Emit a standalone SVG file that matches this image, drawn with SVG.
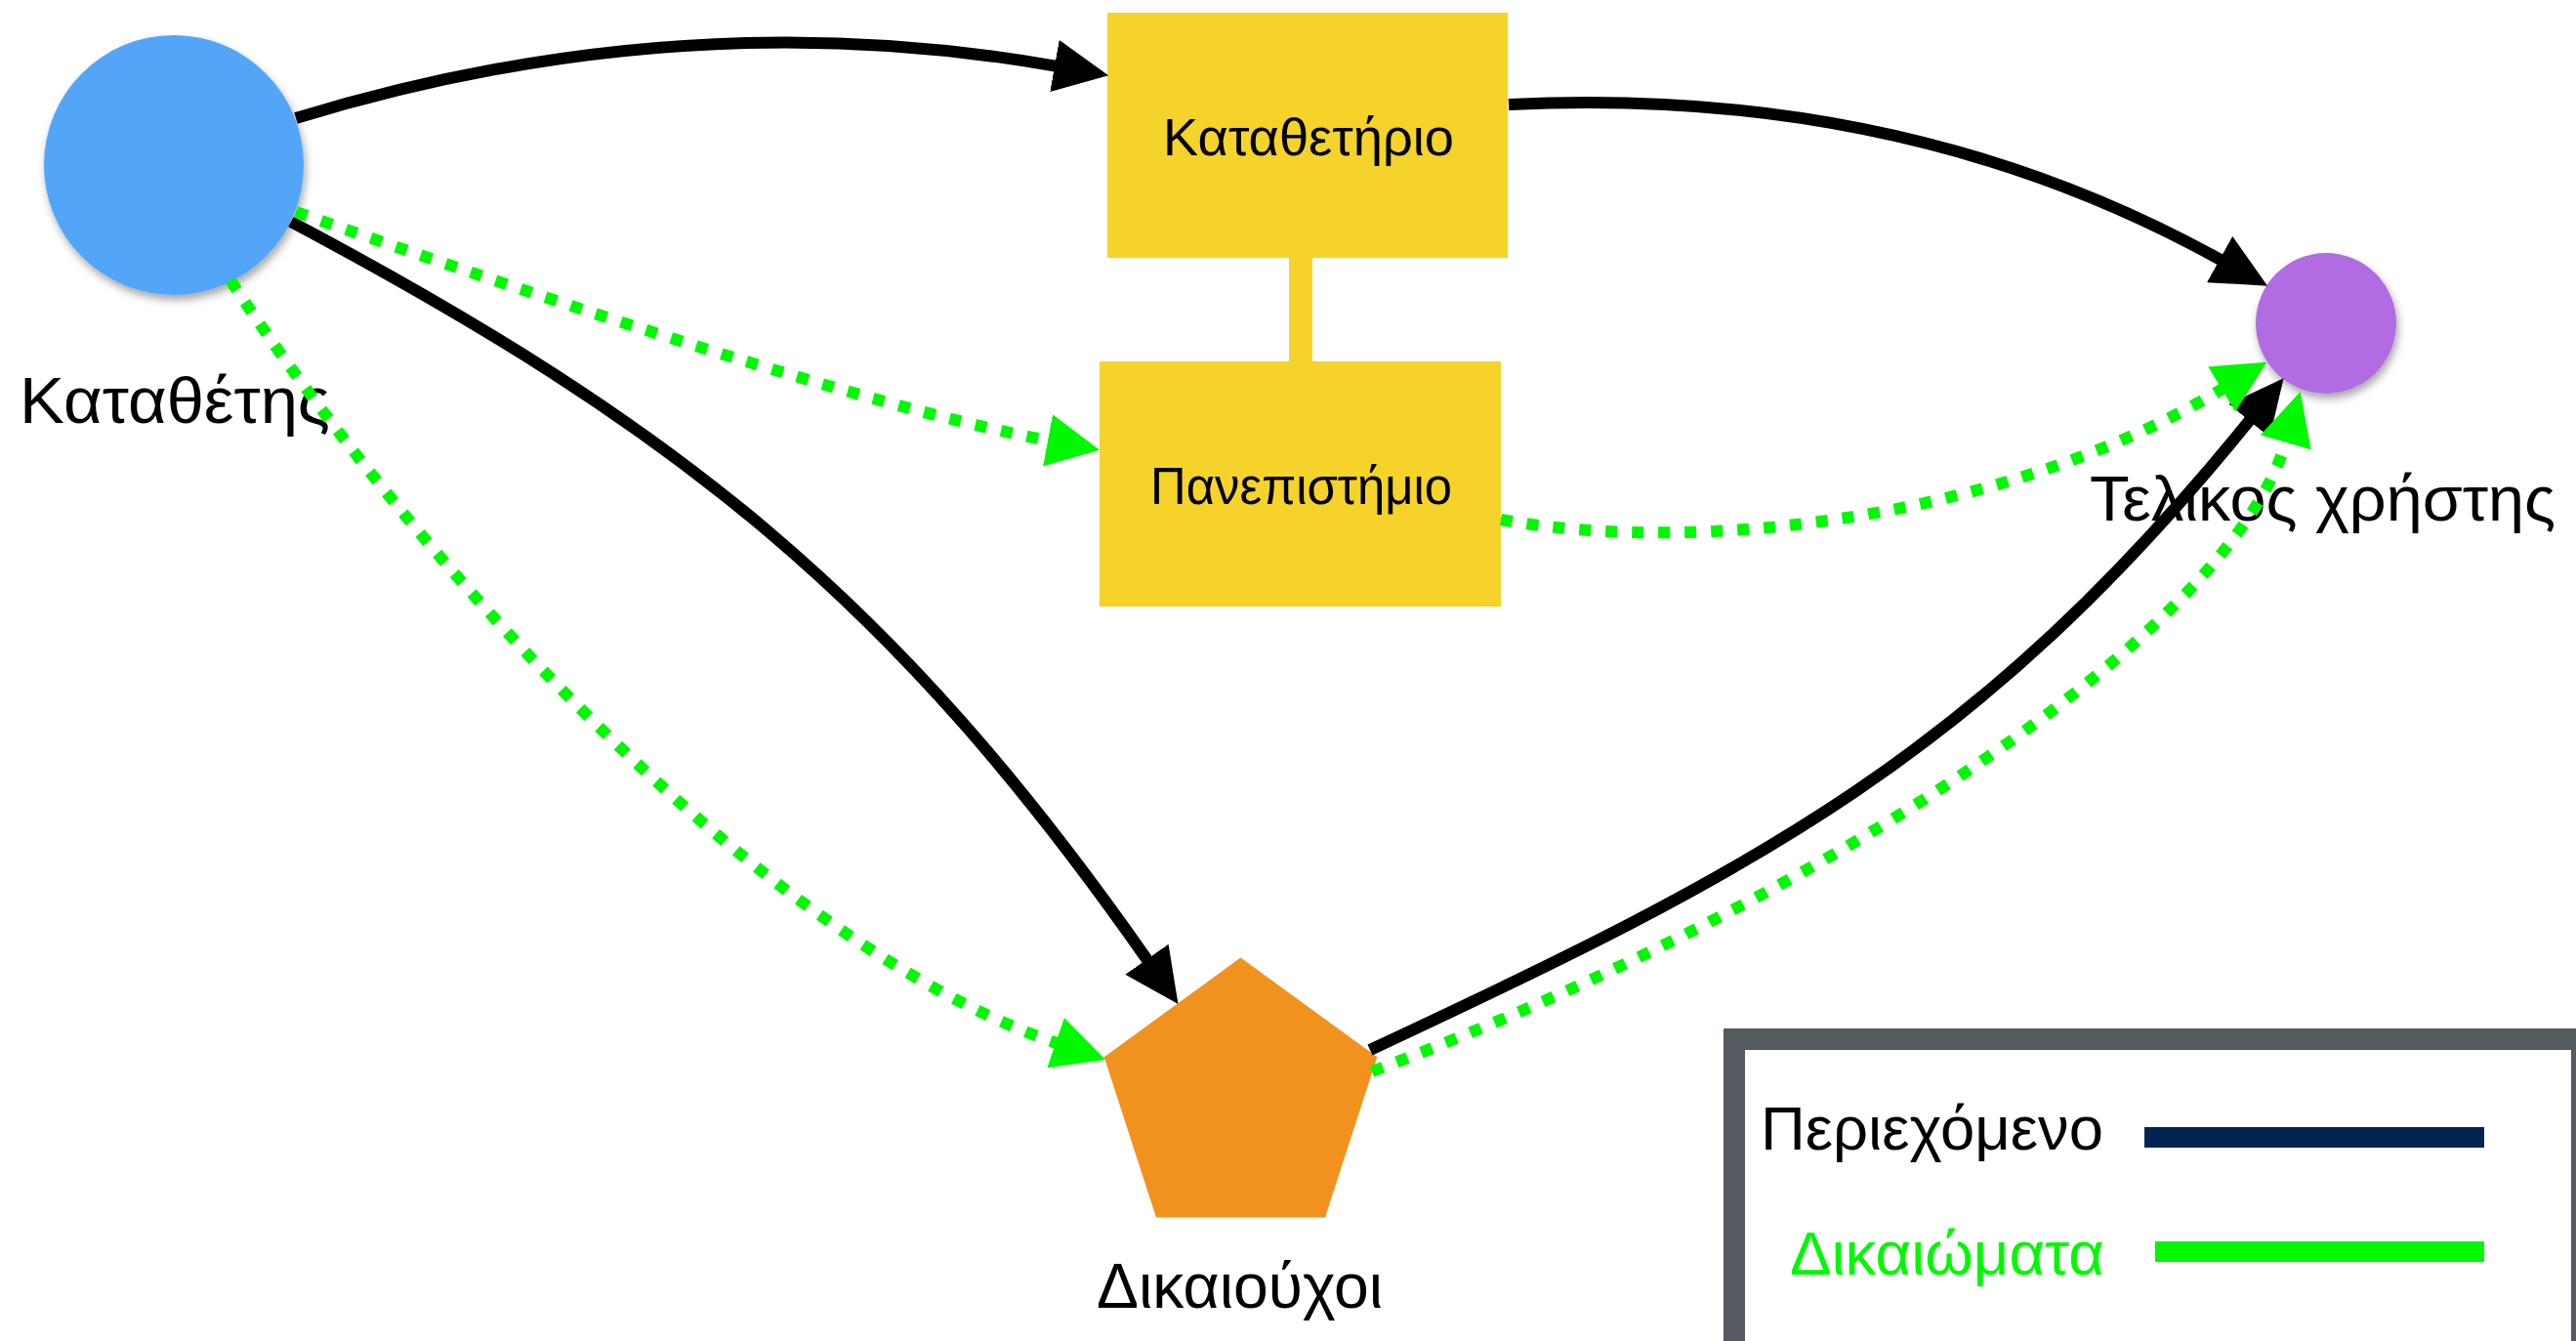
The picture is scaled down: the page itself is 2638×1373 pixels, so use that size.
<svg xmlns="http://www.w3.org/2000/svg" width="2638" height="1373" viewBox="0 0 2638 1373">
  <style>
    .lbl { font-family: "Liberation Sans", Arial, sans-serif; fill: #000; }
    .box { fill: #f5d32b; }
    .solid { fill: none; stroke: #000; stroke-width: 12; }
    .dotted { fill: none; stroke: #00f900; stroke-width: 12; stroke-dasharray: 12 15; }
  </style>
  <defs>
    <filter id="shadow" x="-20%" y="-20%" width="140%" height="150%">
      <feDropShadow dx="2" dy="5" stdDeviation="4" flood-color="#000" flood-opacity="0.35"/>
    </filter>
    <marker id="arrowBlack" markerUnits="userSpaceOnUse" markerWidth="58" markerHeight="54" viewBox="0 0 58 54" refX="1" refY="27" orient="auto">
      <path d="M0,0 L56,27 L0,54 Z" fill="#000"/>
    </marker>
    <marker id="arrowGreen" markerUnits="userSpaceOnUse" markerWidth="58" markerHeight="54" viewBox="0 0 58 54" refX="1" refY="27" orient="auto">
      <path d="M0,0 L54,27 L0,54 Z" fill="#00f900"/>
    </marker>
  </defs>
  <rect width="2638" height="1373" fill="#fff"/>

  <g id="node-katathetis">
    <circle cx="178" cy="169" r="133" fill="#53a6f7" filter="url(#shadow)"/>
    <text class="lbl" x="20" y="433" font-size="66" textLength="318" lengthAdjust="spacingAndGlyphs">Καταθέτης</text>
  </g>

  <g id="node-katathetirio">
    <rect class="box" x="1134" y="13" width="410" height="251"/>
    <text class="lbl" x="1191" y="159" font-size="54" textLength="298" lengthAdjust="spacingAndGlyphs">Καταθετήριο</text>
  </g>

  <g id="node-panepistimio">
    <rect class="box" x="1126" y="370" width="411" height="251"/>
    <text class="lbl" x="1178" y="516" font-size="54" textLength="309" lengthAdjust="spacingAndGlyphs">Πανεπιστήμιο</text>
  </g>

  <g id="node-telikos">
    <circle cx="2382" cy="331" r="72" fill="#b06ce0" filter="url(#shadow)"/>
    <text class="lbl" x="2140" y="533" font-size="65" textLength="477" lengthAdjust="spacingAndGlyphs">Τελικος χρήστης</text>
  </g>

  <g id="node-dikaiouchoi">
    <polygon points="1270.5,980.5 1410.3,1082.3 1357,1246.5 1184,1246.5 1130.7,1082.3" fill="#f2921e"/>
    <text class="lbl" x="1123" y="1339" font-size="64" textLength="293" lengthAdjust="spacingAndGlyphs">Δικαιούχοι</text>
  </g>

  <g id="legend">
    <rect x="1776" y="1064" width="868" height="400" fill="#fff" stroke="#555a61" stroke-width="22"/>
    <text class="lbl" x="1803" y="1177" font-size="63" textLength="351" lengthAdjust="spacingAndGlyphs">Περιεχόμενο</text>
    <rect x="2196" y="1154" width="348" height="21" fill="#022452"/>
    <text class="lbl" x="1833" y="1305" font-size="63" textLength="322" lengthAdjust="spacingAndGlyphs" style="fill:#00f900">Δικαιώματα</text>
    <rect x="2207" y="1271" width="337" height="21" fill="#00f900"/>
  </g>

  <g id="connectors">
    <line x1="1332" y1="262" x2="1332" y2="372" stroke="#f5d32b" stroke-width="24"/>
    <path class="solid" d="M303,121 Q699,0 1081,67.7" marker-end="url(#arrowBlack)"/>
    <path class="solid" d="M1545,107 Q1950.6,86.7 2274,266" marker-end="url(#arrowBlack)"/>
    <path class="solid" d="M298,227 C695,438 917,614 1175,983" marker-end="url(#arrowBlack)"/>
    <path class="solid" d="M1403,1075 C1801.6,889 2027,772 2304,430" marker-end="url(#arrowBlack)"/>
    <path class="dotted" d="M303,217 Q854.8,410.5 1074,451" marker-end="url(#arrowGreen)"/>
    <path class="dotted" d="M236,287 C417,563 771,962 1082,1068" marker-end="url(#arrowGreen)"/>
    <path class="dotted" d="M1537,532 C1750,570 2062,527 2276,398" marker-end="url(#arrowGreen)"/>
    <path class="dotted" d="M1405,1097 C1873,921 2285.6,644 2341,452" marker-end="url(#arrowGreen)"/>
  </g>
</svg>
